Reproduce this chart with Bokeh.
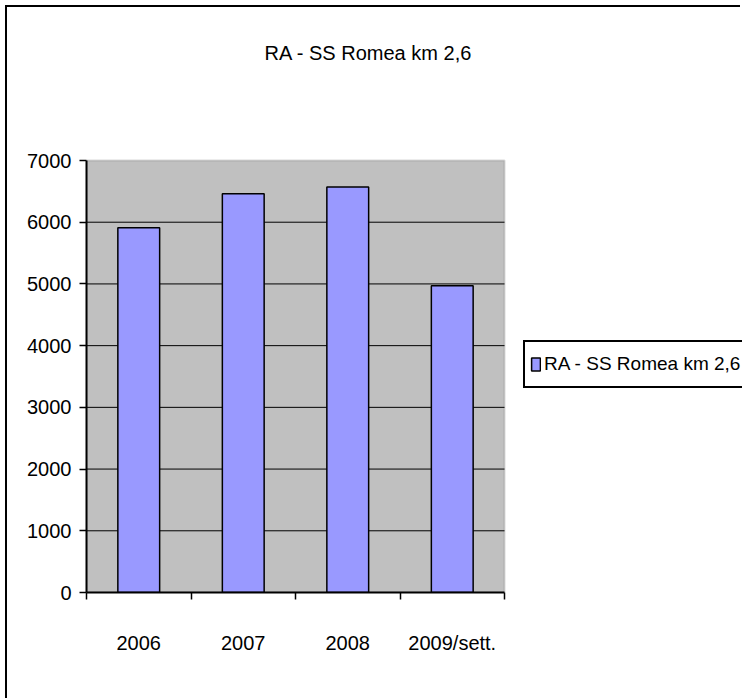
from bokeh.plotting import figure
from bokeh.models import Range1d, FixedTicker, Legend, LegendItem, BoxAnnotation, Label
from bokeh.embed import file_html
from bokeh.resources import INLINE

# ---- data ----
categories = ["2006", "2007", "2008", "2009/sett."]
values = [5910, 6460, 6570, 4970]
y_ticks = [0, 1000, 2000, 3000, 4000, 5000, 6000, 7000]
series_name = "RA - SS Romea km 2,6"
title_text = "RA - SS Romea km 2,6"

FONT = "'Liberation Sans', Arial, sans-serif"

# ---- layout (pixels) ----
CANVAS_W, CANVAS_H = 735, 693
LEFT, BOTTOM = 79, 108          # space for axes
PLOT_W, PLOT_H = 418, 432       # size of the grey plot area
FRAME_W = CANVAS_W - LEFT
FRAME_H = CANVAS_H - BOTTOM

n = len(categories)
xs = [i + 0.5 for i in range(n)]
y_max = y_ticks[-1]

p = figure(width=CANVAS_W, height=CANVAS_H, output_backend="svg", toolbar_location=None,
           title=None,
           x_range=Range1d(0, n * FRAME_W / PLOT_W),
           y_range=Range1d(0, y_max * FRAME_H / PLOT_H),
           min_border_left=LEFT, min_border_top=0,
           min_border_right=0, min_border_bottom=BOTTOM)

p.styles = {"margin-left": "5px", "margin-top": "5px",
            "border-left": "2px solid black", "border-top": "2px solid black"}

p.background_fill_color = "white"
p.border_fill_color = "white"
p.outline_line_color = None

# grey plot area
p.add_layout(BoxAnnotation(left=0, right=n, bottom=0, top=y_max,
                           fill_color="#C0C0C0", fill_alpha=1,
                           line_color="#808080", line_width=2, level="image"))

# horizontal gridlines limited to the plot area
grid_ys = y_ticks[1:-1]
p.segment(x0=[0] * len(grid_ys), x1=[n] * len(grid_ys), y0=grid_ys, y1=grid_ys,
          line_color="black", line_width=1)
p.grid.visible = False

r = p.vbar(x=xs, top=values, width=0.4, bottom=0,
           fill_color="#9999FF", line_color="black", line_width=1.5)

# title
p.add_layout(Label(x=282, y=540, x_units="screen", y_units="screen",
                   text=title_text, text_align="center", text_baseline="middle",
                   text_font=FONT, text_font_size="20px", text_color="black"))

# x axis: labels at centres, tick marks at category boundaries
xa = p.xaxis[0]
xa.bounds = (0, n)
xa.ticker = FixedTicker(ticks=xs, minor_ticks=list(range(n + 1)))
xa.major_label_overrides = {float(x): c for x, c in zip(xs, categories)}
xa.major_tick_out = 0
xa.major_tick_in = 0
xa.minor_tick_out = 7
xa.minor_tick_in = 0
xa.minor_tick_line_color = "black"
xa.minor_tick_line_width = 1.5
xa.axis_line_color = "black"
xa.axis_line_width = 2
xa.major_label_standoff = 32
xa.major_label_text_font = FONT
xa.major_label_text_font_size = "20px"
xa.major_label_text_color = "black"

# y axis
ya = p.yaxis[0]
ya.bounds = (0, y_max)
ya.ticker = FixedTicker(ticks=y_ticks, minor_ticks=[])
ya.major_tick_out = 7
ya.major_tick_in = 0
ya.major_tick_line_color = "black"
ya.major_tick_line_width = 1.5
ya.axis_line_color = "black"
ya.axis_line_width = 2
ya.major_label_standoff = 8
ya.major_label_text_font = FONT
ya.major_label_text_font_size = "20px"
ya.major_label_text_color = "black"

legend = Legend(items=[LegendItem(label=series_name, renderers=[r])],
                location=(437, 204))
legend.border_line_color = "black"
legend.border_line_alpha = 1
legend.border_line_width = 2
legend.background_fill_color = "white"
legend.background_fill_alpha = 1
legend.padding = 5
legend.margin = 0
legend.glyph_width = 11
legend.glyph_height = 16
legend.label_standoff = 3
legend.label_height = 34
legend.label_text_font = FONT
legend.label_text_font_size = "19px"
legend.label_text_color = "black"
p.add_layout(legend)

open("out.html", "w").write(file_html(p, INLINE))
